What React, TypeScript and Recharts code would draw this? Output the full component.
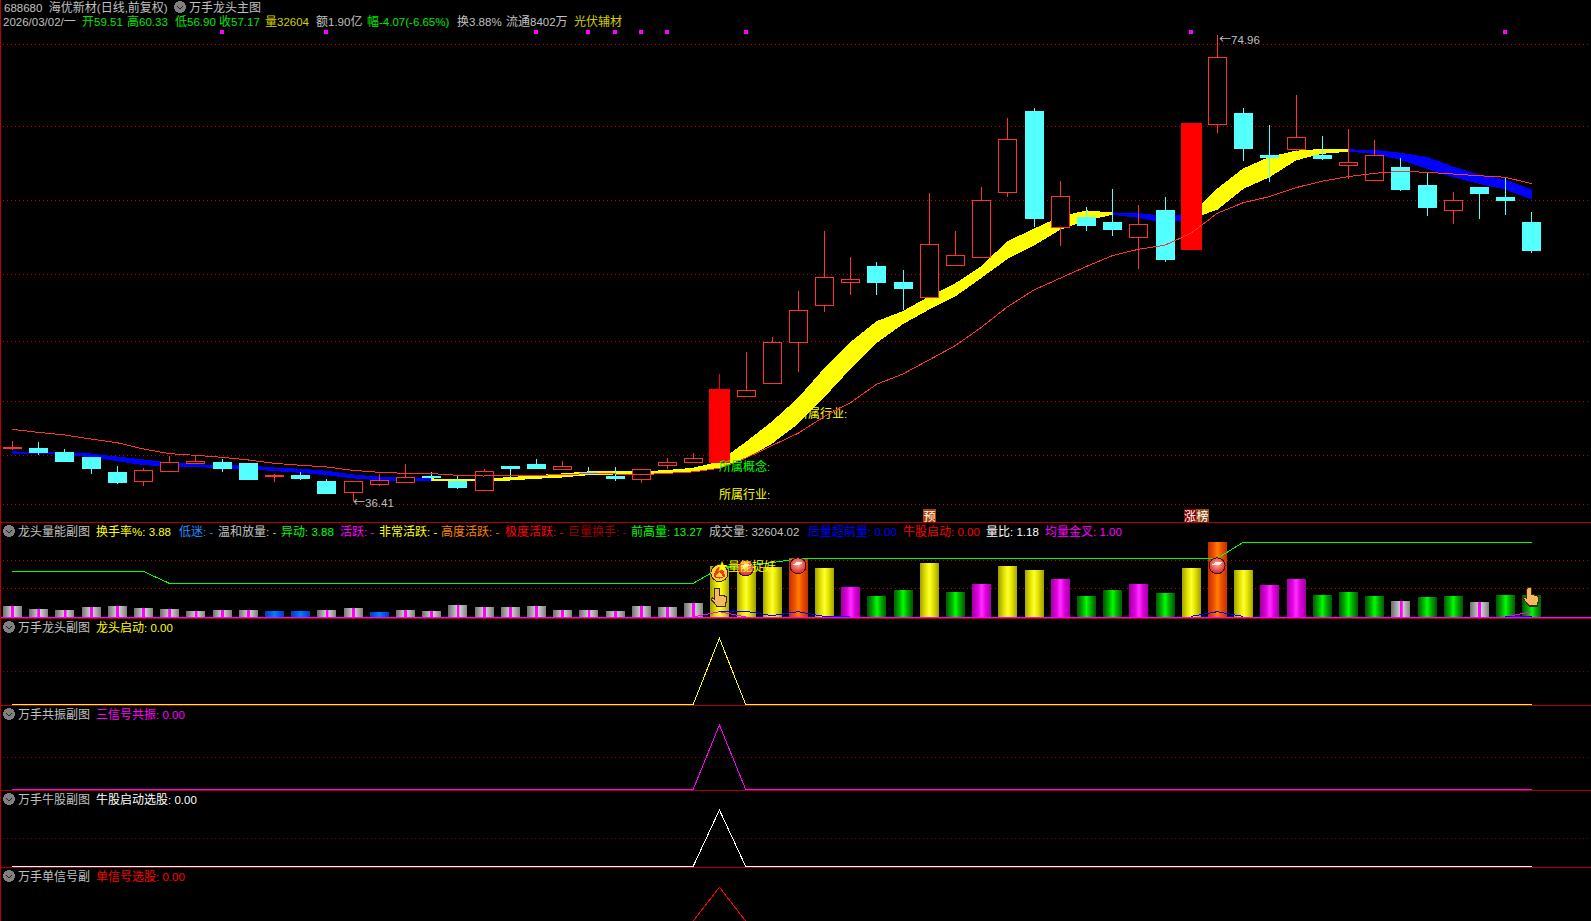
import React from 'react';
import { ComposedChart, Bar, Line, Area, XAxis, YAxis, CartesianGrid, ReferenceLine, ReferenceDot, Cell } from 'recharts';

const opens = [40.88,40.83,40.50,40.08,38.85,38.13,38.93,39.59,39.67,39.59,
38.57,38.60,38.10,37.19,37.88,38.05,38.51,38.10,37.36,39.34,
39.50,39.07,38.85,38.51,38.29,39.45,39.67,39.70,45.15,46.23,
49.56,52.68,54.58,55.87,54.55,53.34,55.98,56.64,62.01,68.68,
59.07,59.95,59.51,58.30,60.50,57.27,67.63,68.51,65.04,65.57,
65.04,64.24,63.00,64.05,62.56,60.53,62.40,61.57,59.51];
const closes = [40.90,40.50,39.75,39.17,38.02,39.01,39.64,39.75,39.20,38.27,
38.60,38.35,37.11,38.07,38.16,38.40,38.43,37.61,38.93,39.17,
39.17,39.34,38.76,38.38,39.07,39.67,39.97,45.71,45.60,49.56,
52.21,54.93,54.77,54.55,54.05,57.66,56.75,61.30,66.34,59.84,
61.63,59.26,58.93,59.31,56.45,67.69,73.11,65.62,64.88,66.50,
64.80,64.44,65.02,62.23,60.75,61.30,61.90,61.32,57.17];
const highs = [41.44,41.32,40.75,40.08,39.34,39.17,40.17,40.25,39.92,39.59,
38.68,38.85,38.27,38.07,38.68,39.50,38.85,38.51,39.09,39.34,
39.92,39.75,39.26,39.26,39.07,40.00,40.42,46.95,48.76,50.00,
53.80,58.76,56.59,56.20,55.54,61.90,58.76,62.40,68.10,68.93,
62.90,60.75,62.23,60.91,61.57,67.69,74.96,68.93,67.52,70.00,
66.61,67.19,66.28,64.80,63.56,61.99,62.40,63.14,60.33];
const lows = [40.66,40.25,39.67,38.68,37.85,37.69,38.93,39.50,38.85,38.18,
38.02,38.18,37.11,36.41,37.69,38.05,38.10,37.44,37.36,38.43,
39.17,39.07,38.60,38.10,37.94,39.09,39.59,39.70,45.15,46.23,
47.14,52.10,53.47,53.47,52.23,53.34,55.98,56.64,61.57,59.12,
57.52,58.76,58.35,55.62,56.20,57.19,66.86,64.55,62.81,65.37,
64.63,63.06,63.00,62.07,60.00,59.34,59.75,60.08,56.90];
const bigCandles = [27, 45];
const bandTop = [40.50,40.47,40.42,40.33,40.08,39.84,39.59,39.45,39.37,39.34,
39.17,39.07,38.90,38.60,38.43,38.30,38.27,38.21,38.24,38.38,
38.54,38.68,38.85,38.85,38.85,38.96,39.15,39.67,41.27,42.95,
44.90,47.35,49.53,51.26,52.09,53.30,54.38,55.81,57.88,58.90,
59.89,60.42,60.25,60.20,59.95,60.10,62.21,63.89,64.85,65.35,
65.51,65.46,65.43,65.18,64.85,64.05,63.39,62.98,62.15];
const bandBottom = [40.36,40.36,40.31,40.11,39.78,39.45,39.34,39.29,39.20,39.12,
38.96,38.82,38.62,38.35,38.21,38.10,38.16,38.10,38.13,38.18,
38.32,38.43,38.62,38.68,38.71,38.76,38.85,39.15,39.98,41.22,
42.87,45.07,47.41,49.56,51.10,52.31,53.39,54.93,56.50,57.60,
58.90,59.67,60.14,59.89,59.45,59.80,60.55,62.29,63.25,64.63,
65.18,65.35,65.18,64.68,63.94,63.25,62.70,62.23,61.41];
const bandFalling = [1,1,1,1,1,1,1,1,1,1,1,1,1,1,1,1,0,0,0,0,0,0,0,0,0,0,0,0,0,0,
0,0,0,0,0,0,0,0,0,0,0,0,1,1,1,0,0,0,0,0,0,1,1,1,1,1,1,1,1];
const maLine = [42.37,42.12,41.90,41.57,41.27,40.75,40.36,40.22,40.06,39.84,
39.56,39.40,39.26,38.98,38.82,38.73,38.71,38.57,38.51,38.57,
38.57,38.62,38.71,38.68,38.62,38.73,38.85,39.15,39.98,41.02,
42.04,43.42,44.57,46.09,46.94,48.10,49.28,50.80,52.50,53.88,
54.85,55.82,56.72,57.25,57.58,58.57,60.22,61.10,61.60,62.34,
62.87,63.25,63.53,63.69,63.61,63.47,63.33,63.20,62.67];
const signalBars = [8,12,20,22,23,24,25,28,45,57];
const signalPrice = 75.18;
const mainGridPrices = [74.19,67.4,61.3,55.2,49.65,44.65,40.2,36.15];

const turnover = [1.95,1.42,1.24,1.78,1.95,1.60,1.42,1.07,1.24,1.24,
1.07,1.07,1.24,1.60,0.89,1.24,1.07,2.13,1.78,1.78,
1.95,1.24,1.24,1.07,1.95,1.78,2.49,9.06,8.90,8.88,
10.48,8.70,5.33,3.73,4.80,9.59,4.44,5.86,9.06,8.35,
6.75,3.73,4.80,5.86,4.26,8.70,13.32,8.35,5.68,6.75,
3.91,4.44,3.73,2.84,3.55,3.73,2.66,3.91,3.88];
const barKinds = ['gray','gray','gray','gray','gray','gray','gray','gray','gray','gray',
'blue','blue','gray','gray','blue','gray','gray','gray','gray','gray',
'gray','gray','gray','gray','gray','gray','gray','yellow','yellow','yellow',
'orange','yellow','magenta','green','green','yellow','green','magenta','yellow','yellow',
'magenta','green','green','magenta','green','yellow','orange','yellow','magenta','magenta',
'green','green','green','gray','green','green','gray','green','green'];
const priorHigh = [8.12,8.12,8.12,8.12,8.12,8.12,5.98,5.98,5.98,5.98,
5.98,5.98,5.98,5.98,5.98,5.98,5.98,5.98,5.98,5.98,
5.98,5.98,5.98,5.98,5.98,5.98,5.98,8.65,9.24,9.65,
10.36,10.43,10.43,10.43,10.43,10.43,10.43,10.43,10.43,10.43,
10.43,10.43,10.43,10.43,10.43,10.43,10.43,13.27,13.27,13.27,
13.27,13.27,13.27,13.27,13.27,13.27,13.27,13.27,13.27];
const n = null;
const volumeFlow = [n,n,n,n,n,n,n,n,n,n,n,n,n,n,n,n,n,n,n,n,n,n,n,n,n,n,n,0.9,1.0,0.25,
0.94,0.1,0,n,n,n,n,n,n,n,n,n,n,n,n,0.1,0.94,0.1,n,n,n,n,n,n,n,n,n,0,0.06];
const volumeCross = [n,n,n,n,n,n,n,n,n,n,n,n,n,n,n,n,n,n,n,n,n,n,n,n,n,n,0,0.94,0,n,
n,n,n,n,n,n,n,n,n,n,n,n,n,n,n,n,n,n,n,n,n,n,n,n,n,n,n,0,0.94];
const volGridValues = [10.07, 5.10];
const volIcons = [
  { i: 28, t: 8.7, kind: 'ball' }, { i: 30, t: 9.1, kind: 'ball' }, { i: 46, t: 9.1, kind: 'ball' },
  { i: 27, t: 7.8, kind: 'flame' }, { i: 27, t: 3.5, kind: 'hand' }, { i: 58, t: 3.6, kind: 'hand' },
];

const dragonSignal = [0,0,0,0,0,0,0,0,0,0,0,0,0,0,0,0,0,0,0,0,0,0,0,0,0,0,0,1,0,0,0,0,0,0,0,0,0,0,0,0,0,0,0,0,0,0,0,0,0,0,0,0,0,0,0,0,0,0,0];
const resonanceSignal = [0,0,0,0,0,0,0,0,0,0,0,0,0,0,0,0,0,0,0,0,0,0,0,0,0,0,0,1,0,0,0,0,0,0,0,0,0,0,0,0,0,0,0,0,0,0,0,0,0,0,0,0,0,0,0,0,0,0,0];
const bullSignal = [0,0,0,0,0,0,0,0,0,0,0,0,0,0,0,0,0,0,0,0,0,0,0,0,0,0,0,1,0,0,0,0,0,0,0,0,0,0,0,0,0,0,0,0,0,0,0,0,0,0,0,0,0,0,0,0,0,0,0];
const singleSignal = [0,0,0,0,0,0,0,0,0,0,0,0,0,0,0,0,0,0,0,0,0,0,0,0,0,0,0,1,0,0,0,0,0,0,0,0,0,0,0,0,0,0,0,0,0,0,0,0,0,0,0,0,0,0,0,0,0,0,0];

const blankSlots = [59, 60];
const rows = [...opens.map((o, i) => {
  const falling = bandFalling[i] === 1;
  const prevFalling = i > 0 ? bandFalling[i - 1] === 1 : falling;
  const range = [bandBottom[i], bandTop[i]];
  return {
    i, o, c: closes[i], h: highs[i], l: lows[i], big: bigCandles.includes(i),
    blue: falling || prevFalling ? range : null,
    yellow: !falling || !prevFalling ? range : null,
    ma: maLine[i],
    mark: signalBars.includes(i) ? signalPrice : null,
    turnover: turnover[i], priorHigh: priorHigh[i], flow: volumeFlow[i], cross: volumeCross[i],
    dragon: dragonSignal[i], resonance: resonanceSignal[i], bull: bullSignal[i], single: singleSignal[i],
  };
}), ...blankSlots.map((i) => ({ i }))];

const WIDTH = 1598;
const RED = '#ff3232';
const CYAN = '#54ffff';
const CJK = '"Noto Sans CJK SC", sans-serif';
const GRAY = '#c0c0c0';
const DOT = '#c00000';

const wick = (x: number, y1: number, y2: number, color: string) => (
  <line x1={x} x2={x} y1={y1} y2={y2} stroke={color} strokeWidth={1} />
);

const candleBody = (p: any, big: boolean) => {
  const d = p.payload;
  if (!d || d.big !== big || p.height == null) return <g />;
  const top = Math.min(p.y, p.y + p.height);
  const h = Math.abs(p.height);
  const span = d.h - d.l || 1;
  const pos = (v: number) => top + ((d.h - v) / span) * h;
  const up = d.c >= d.o;
  const color = big ? '#ff0000' : up ? RED : CYAN;
  const cx = Math.floor(p.x + p.width / 2) + 0.5;
  const w = big ? 21 : 19;
  const y1 = Math.round(pos(Math.max(d.o, d.c)));
  const y2 = Math.round(pos(Math.min(d.o, d.c)));
  const left = Math.round(cx - w / 2);
  const filled = big || !up;
  return (
    <g>
      {wick(cx, top, top + h, color)}
      {filled
        ? <rect x={left} y={y1} width={w} height={Math.max(1, y2 - y1 + 1)} fill={color} />
        : <rect x={left + 0.5} y={y1 + 0.5} width={w - 1} height={Math.max(1, y2 - y1)} fill="#000" stroke={color} strokeWidth={1} />}
    </g>
  );
};

const SignalDot = (p: any) => (p.payload && p.payload.mark != null
  ? <rect key={p.index} x={Math.round(p.cx) - 2} y={Math.round(p.cy) - 2} width={4} height={4} fill="#ff00ff" />
  : <g key={p.index} />);

const Ball = ({ cx, cy }: any) => (
  <g>
    <circle cx={cx} cy={cy} r={8} fill="url(#ballFill)" stroke="#401010" strokeWidth={1} />
    <path d={`M${cx - 5},${cy - 1} q5,-5 10,-2 q-4,4 -10,2z`} fill="#fff" opacity={0.85} />
  </g>
);
const Flame = ({ cx, cy }: any) => (
  <g>
    <circle cx={cx} cy={cy} r={8.5} fill="#f8d040" stroke="#402000" strokeWidth={1} />
    <path d={`M${cx},${cy - 7} q7,7 5,11 q-5,3 -10,0 q-2,-4 5,-11z`} fill="#e84000" />
    <path d={`M${cx},${cy - 1} q4,3 3,5 h-6 q-1,-2 3,-5z`} fill="#ffd040" />
  </g>
);
const Hand = ({ cx, cy }: any) => (
  <path transform={`translate(${cx},${cy}) scale(1.15)`}
    d="M-3,-8 h2 a1,1 0 0,1 1,1 v5 l5,1 q2,1 1,4 l-1,5 h-7 l-5,-6 q0,-2 2,-1 l1,1 v-9 q0,-1 1,-1z"
    fill="#f4b860" stroke="#402808" strokeWidth={1} />
);
const renderIcon = (kind: string) => (p: any) =>
  kind === 'ball' ? <Ball cx={p.cx} cy={p.cy} /> : kind === 'flame' ? <Flame cx={p.cx} cy={p.cy} /> : <Hand cx={p.cx} cy={p.cy} />;

const cylinder = (id: string, edge: string, mid: string, centre: string) => (
  <linearGradient id={id} x1="0" x2="1" y1="0" y2="0">
    <stop offset="0" stopColor={edge} /><stop offset="0.3" stopColor={mid} /><stop offset="0.5" stopColor={centre} />
    <stop offset="0.7" stopColor={mid} /><stop offset="1" stopColor={edge} />
  </linearGradient>
);

const Txt = ({ x, y, c, t, z }: any) => (
  <div style={{ position: 'absolute', left: x, top: y - 7, height: 14, lineHeight: '14px', color: c, fontFamily: CJK, fontSize: 12, whiteSpace: 'pre', zIndex: z ?? 5 }}>
    {t.split(/([\x00-\x7F]+)/).map((s: string, k: number) => /^[\x00-\x7F]+$/.test(s)
      ? <span key={k} style={{ display: 'inline-block', fontFamily: '"Liberation Sans"', fontSize: 11.5 }}>{s}</span>
      : <span key={k} style={{ display: 'inline-block' }}>{s}</span>)}
  </div>
);

const Chevron = ({ x, y }: any) => (
  <svg style={{ position: 'absolute', left: x - 7, top: y - 7, zIndex: 5 }} width={14} height={14}>
    <circle cx={7} cy={7} r={6} fill="#808080" />
    <path d="M4,6 L7,9 L10,6" stroke="#202020" strokeWidth={1.4} fill="none" />
  </svg>
);

const Rule = ({ y }: any) => (
  <div style={{ position: 'absolute', left: 0, top: y, width: 1591, height: 1, background: '#b00000', zIndex: 4 }} />
);

const SubPanel = ({ top, height, domain, gridValue, dataKey, color }: any) => (
  <div style={{ position: 'absolute', left: -1, top }}>
    <ComposedChart width={WIDTH} height={height} data={rows} margin={{ top: 0, right: 0, bottom: 0, left: 0 }}>
      <XAxis hide dataKey="i" type="category" scale="band" />
      <YAxis hide type="number" domain={domain} allowDataOverflow />
      {gridValue != null && <CartesianGrid vertical={false} horizontalValues={[gridValue]} stroke="#900000" strokeDasharray="1 3" />}
      <Line dataKey={dataKey} stroke={color} strokeWidth={1} dot={false} isAnimationActive={false} />
    </ComposedChart>
  </div>
);

const header2 = [
  { x: 3, c: GRAY, t: '2026/03/02/一' }, { x: 82, c: '#00e800', t: '开59.51' }, { x: 127, c: '#00e800', t: '高60.33' },
  { x: 175, c: '#00e800', t: '低56.90' }, { x: 219, c: '#00e800', t: '收57.17' }, { x: 265, c: '#d0d000', t: '量32604' },
  { x: 316, c: GRAY, t: '额1.90亿' }, { x: 367, c: '#00e800', t: '幅-4.07(-6.65%)' }, { x: 457, c: GRAY, t: '换3.88%' },
  { x: 506, c: GRAY, t: '流通8402万' }, { x: 574, c: '#d0d000', t: '光伏辅材' },
];
const volLegend = [
  { x: 96, c: '#ffff00', t: '换手率%: 3.88' }, { x: 179, c: '#1e90ff', t: '低迷: -' }, { x: 218, c: GRAY, t: '温和放量: -' },
  { x: 281, c: '#00ff00', t: '异动: 3.88' }, { x: 340, c: '#ff00ff', t: '活跃: -' }, { x: 379, c: '#ffff00', t: '非常活跃: -' },
  { x: 441, c: '#ff8000', t: '高度活跃: -' }, { x: 505, c: '#ff0000', t: '极度活跃: -' }, { x: 568, c: '#a00000', t: '巨量换手: -' },
  { x: 631, c: '#00ff00', t: '前高量: 13.27' }, { x: 709, c: GRAY, t: '成交量: 32604.02' }, { x: 808, c: '#0000ff', t: '后量超前量: 0.00' },
  { x: 903, c: '#ff0000', t: '牛股启动: 0.00' }, { x: 986, c: '#ffffff', t: '量比: 1.18' }, { x: 1045, c: '#ff00ff', t: '均量金叉: 1.00' },
];
const subTitles = [
  { y: 627, title: '万手龙头副图', c: '#ffff00', t: '龙头启动: 0.00' },
  { y: 714, title: '万手共振副图', c: '#ff00ff', t: '三信号共振: 0.00' },
  { y: 799, title: '万手牛股副图', c: '#ffffff', t: '牛股启动选股: 0.00' },
  { y: 876, title: '万手单信号副', c: '#ff0000', t: '单信号选股: 0.00' },
];

export default function App() {
  return (
    <div style={{ position: 'absolute', left: 0, top: 0, width: 1591, height: 921, background: '#000', overflow: 'hidden' }}>
      <style>{'svg *{shape-rendering:crispEdges}'}</style>
      <Txt x={796} y={413} c="#ffff00" t="所属行业:" z={0} />
      <div style={{ position: 'absolute', left: -1, top: 0, zIndex: 1 }}>
        <ComposedChart width={WIDTH} height={522} data={rows} margin={{ top: 0, right: 0, bottom: 0, left: 0 }}>
          <XAxis hide dataKey="i" type="category" scale="band" />
          <XAxis hide xAxisId="big" dataKey="i" type="category" scale="band" />
          <YAxis hide type="number" domain={[34.71, 77.85]} allowDataOverflow />
          <CartesianGrid vertical={false} horizontalValues={mainGridPrices} stroke={DOT} strokeDasharray="1 3" />
          <Bar dataKey={(d: any) => (d.h == null ? null : [d.l, d.h])} barSize={19} isAnimationActive={false} shape={(p: any) => candleBody(p, false)} />
          <Area dataKey="yellow" stroke="#ffff00" strokeWidth={1} fill="#ffff00" fillOpacity={1} dot={false} activeDot={false} isAnimationActive={false} />
          <Area dataKey="blue" stroke="#0000ff" strokeWidth={1} fill="#0000ff" fillOpacity={1} dot={false} activeDot={false} isAnimationActive={false} />
          <Line dataKey="ma" stroke={RED} strokeWidth={1} dot={false} isAnimationActive={false} />
          <Bar xAxisId="big" dataKey={(d: any) => (d.big ? [d.l, d.h] : null)} barSize={21} isAnimationActive={false} shape={(p: any) => candleBody(p, true)} />
          <Line dataKey="mark" stroke="none" dot={SignalDot} isAnimationActive={false} connectNulls={false} />
        </ComposedChart>
      </div>

      <div style={{ position: 'absolute', left: -1, top: 522, zIndex: 1 }}>
        <ComposedChart width={WIDTH} height={96} data={rows} margin={{ top: 0, right: 0, bottom: 1, left: 0 }}>
          <defs>
            {cylinder('cylYellow', '#a0a000', '#e4e400', '#ffff30')}
            {cylinder('cylOrange', '#c03000', '#f05000', '#ff8000')}
            {cylinder('cylMagenta', '#a000a0', '#e000e0', '#ff30ff')}
            {cylinder('cylGreen', '#005800', '#00b000', '#00ff00')}
            {cylinder('cylBlue', '#0040c0', '#0060f0', '#0080ff')}
            <linearGradient id="cylGray" x1="0" x2="1" y1="0" y2="0">
              <stop offset="0" stopColor="#707070" /><stop offset="0.43" stopColor="#c8c8c8" />
              <stop offset="0.44" stopColor="#ff00ff" /><stop offset="0.58" stopColor="#ff00ff" />
              <stop offset="0.59" stopColor="#d0d0d0" /><stop offset="1" stopColor="#808080" />
            </linearGradient>
            <radialGradient id="ballFill" cx="0.5" cy="0.4" r="0.6">
              <stop offset="0" stopColor="#ffb0a0" /><stop offset="1" stopColor="#d82020" />
            </radialGradient>
          </defs>
          <XAxis hide dataKey="i" type="category" scale="band" />
          <YAxis hide type="number" domain={[0, 16.87]} allowDataOverflow />
          <CartesianGrid vertical={false} horizontalValues={volGridValues} stroke={DOT} strokeDasharray="1 3" />
          <Bar dataKey="turnover" barSize={19} isAnimationActive={false}>
            {barKinds.map((k, i) => <Cell key={i} fill={`url(#cyl${k[0].toUpperCase()}${k.slice(1)})`} />)}
          </Bar>
          <ReferenceLine y={0} stroke="#ff00ff" strokeWidth={1} />
          <Line dataKey="priorHigh" stroke="#00ff00" strokeWidth={1} dot={false} isAnimationActive={false} />
          <Line dataKey="cross" stroke="#ff00ff" strokeWidth={1} dot={false} isAnimationActive={false} />
          <Line dataKey="flow" stroke="#0000ff" strokeWidth={1} dot={false} isAnimationActive={false} />
          {volIcons.map((m, k) => (
            <ReferenceDot key={k} x={m.i} y={m.t} r={1} ifOverflow="visible" shape={renderIcon(m.kind)} />
          ))}
        </ComposedChart>
      </div>

      <SubPanel top={618} height={87} domain={[-0.0106, 1.308]} gridValue={0.5} dataKey="dragon" color="#ffff00" />
      <SubPanel top={705} height={85} domain={[-0.0109, 1.311]} gridValue={0.498} dataKey="resonance" color="#ff00ff" />
      <SubPanel top={790} height={77} domain={[-0.0124, 1.355]} gridValue={0.497} dataKey="bull" color="#ffffff" />
      <SubPanel top={867} height={54} domain={[0, 1.6]} dataKey="single" color="#ff0000" />

      {[522, 618, 705, 790, 867].map((y) => <Rule key={y} y={y} />)}
      <div style={{ position: 'absolute', left: 0, top: 0, width: 1, height: 921, background: '#c00000', zIndex: 4 }} />

      <Txt x={4} y={7} c={GRAY} t="688680  海优新材(日线,前复权)" />
      <Chevron x={180} y={7} />
      <Txt x={189} y={7} c={GRAY} t="万手龙头主图" />
      {header2.map((h, k) => <Txt key={k} x={h.x} y={21} c={h.c} t={h.t} />)}

      <Txt x={353} y={502} c={GRAY} t="←36.41" />
      <Txt x={1219} y={39} c={GRAY} t="←74.96" />
      <Txt x={719} y={466} c="#00ff00" t="所属概念:" />
      <Txt x={719} y={494} c="#ffff00" t="所属行业:" />
      <Txt x={716} y={566} c="#ffff00" t="★量能捉妖" />

      <div style={{ position: 'absolute', left: 923, top: 509, width: 13, height: 13, background: '#b04000', color: '#fff', fontFamily: CJK, fontSize: 12, lineHeight: '13px', textAlign: 'center', zIndex: 5 }}>预</div>
      <div style={{ position: 'absolute', left: 1184, top: 509, width: 12, height: 13, background: '#800000', color: '#fff', fontFamily: CJK, fontSize: 12, lineHeight: '13px', textAlign: 'center', zIndex: 5 }}>涨</div>
      <div style={{ position: 'absolute', left: 1196, top: 509, width: 13, height: 13, background: '#8b4a10', color: '#fff', fontFamily: CJK, fontSize: 12, lineHeight: '13px', textAlign: 'center', zIndex: 5 }}>榜</div>

      <Chevron x={9} y={531} />
      <Txt x={18} y={531} c={GRAY} t="龙头量能副图" />
      {volLegend.map((h, k) => <Txt key={k} x={h.x} y={531} c={h.c} t={h.t} />)}
      {subTitles.map((s) => (
        <React.Fragment key={s.y}>
          <Chevron x={9} y={s.y} />
          <Txt x={18} y={s.y} c={GRAY} t={s.title} />
          <Txt x={96} y={s.y} c={s.c} t={s.t} />
        </React.Fragment>
      ))}
    </div>
  );
}
